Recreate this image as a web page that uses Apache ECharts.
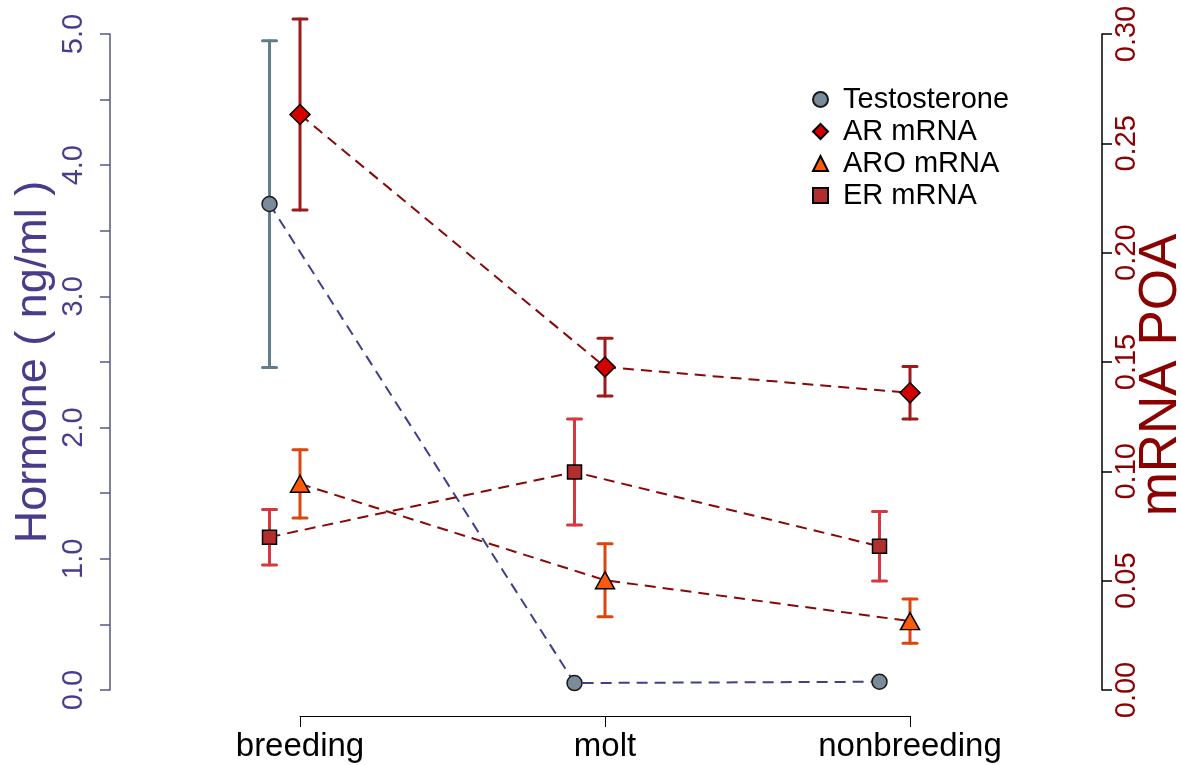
<!DOCTYPE html>
<html>
<head>
<meta charset="utf-8">
<script src="https://cdn.jsdelivr.net/npm/echarts@6/dist/echarts.min.js"></script>
<style>
html,body{margin:0;padding:0;background:#fff;}
#chart{width:1181px;height:765px;}
</style>
</head>
<body>
<div id="chart"></div>
<script>
// ---- data ----
const categories = ['breeding', 'molt', 'nonbreeding'];
const leftTicks = ['0.0', '1.0', '2.0', '3.0', '4.0', '5.0'];
const rightTicks = ['0.00', '0.05', '0.10', '0.15', '0.20', '0.25', '0.30'];
// Testosterone (ng/ml, left axis)
const testoMean = [3.704, 0.053, 0.063];
const testoSE   = [1.245, 0, 0];
// mRNA POA (right axis)
const arMean  = [0.2632, 0.1477, 0.1359];
const arSE    = [0.0437, 0.0132, 0.0120];
const aroMean = [0.0943, 0.0502, 0.0315];
const aroSE   = [0.0156, 0.0167, 0.0101];
const erMean  = [0.0699, 0.0997, 0.0657];
const erSE    = [0.0127, 0.0242, 0.0159];

// ---- build ----
const DODGE = -0.1;
function pts(mean, off) { return mean.map((v, i) => [i + 1 + off, v]); }
function bars(mean, se, off) {
  return mean.map((v, i) => [i + 1 + off, v - se[i], v + se[i]]).filter((d, i) => se[i] > 0);
}
function errRender(color) {
  return function (params, api) {
    const x = api.value(0), lo = api.value(1), hi = api.value(2);
    const a = api.coord([x, hi]), b = api.coord([x, lo]);
    const w = 7;
    const st = { stroke: color, lineWidth: 3, lineCap: 'round' };
    return {
      type: 'group',
      children: [
        { type: 'line', shape: { x1: a[0], y1: a[1], x2: b[0], y2: b[1] }, style: st },
        { type: 'line', shape: { x1: a[0] - w, y1: a[1], x2: a[0] + w, y2: a[1] }, style: st },
        { type: 'line', shape: { x1: b[0] - w, y1: b[1], x2: b[0] + w, y2: b[1] }, style: st }
      ]
    };
  };
}
const darkRed = '#880808';
const font = 'Liberation Sans, Arial, sans-serif';

const chart = echarts.init(document.getElementById('chart'), null, { renderer: 'canvas' });
const option = {
  backgroundColor: '#ffffff',
  animation: false,
  textStyle: { fontFamily: font },
  grid: [
    { left: 110, right: 79, top: 34, bottom: 75, containLabel: false, outerBoundsMode: 'none' },
    { left: 300, width: 610, top: 700, height: 16, containLabel: false, outerBoundsMode: 'none' }
  ],
  xAxis: [
    { type: 'value', gridIndex: 0, min: 0.377, max: 3.6295, show: false },
    { type: 'category', gridIndex: 1, data: categories, boundaryGap: false, position: 'bottom',
      axisLine: { lineStyle: { color: '#000', width: 1 } },
      axisTick: { length: 11, lineStyle: { color: '#000', width: 1 } },
      axisLabel: { fontSize: 33, color: '#000', margin: 14, fontFamily: font },
      splitLine: { show: false } }
  ],
  yAxis: [
    { type: 'value', gridIndex: 0, min: 0, max: 5, interval: 0.5, position: 'left',
      axisLine: { show: true, lineStyle: { color: '#56568a', width: 1.5 } },
      axisTick: { show: true, length: 10, lineStyle: { color: '#56568a', width: 1.5 } },
      axisLabel: { rotate: 90, fontSize: 29, color: '#483D8B', margin: 22, fontFamily: font,
        formatter: v => { const k = Math.round(v * 2); return k % 2 === 0 ? leftTicks[k / 2] : ''; } },
      splitLine: { show: false },
      name: 'Hormone ( ng/ml )', nameLocation: 'middle', nameRotate: 90, nameGap: 54, nameMoveOverlap: false,
      nameTextStyle: { fontSize: 45, color: '#483D8B', fontFamily: font } },
    { type: 'value', gridIndex: 0, min: 0, max: 0.3, interval: 0.05, position: 'right',
      axisLine: { show: true, lineStyle: { color: '#000', width: 1.5 } },
      axisTick: { show: true, length: 10, lineStyle: { color: '#000', width: 1.5 } },
      axisLabel: { rotate: 90, fontSize: 29, color: '#8B0000', margin: 10, fontFamily: font,
        formatter: v => rightTicks[Math.round(v / 0.05)] },
      splitLine: { show: false },
      name: 'mRNA POA', nameLocation: 'middle', nameRotate: 90, nameGap: 33, nameMoveOverlap: false,
      nameTextStyle: { fontSize: 53, color: '#8B0000', fontFamily: font, padding: [0, 26, 0, 0] } },
    { type: 'value', gridIndex: 1, show: false }
  ],
  legend: {
    orient: 'vertical', left: 807, top: 80, itemWidth: 15, itemHeight: 15, itemGap: 3,
    textStyle: { fontSize: 29, color: '#000', fontFamily: font, padding: [0, 0, 0, 10] },
    data: ['Testosterone', 'AR mRNA', 'ARO mRNA', 'ER mRNA']
  },
  series: [
    // dashed connecting lines
    { type: 'line', name: 'l-testo', xAxisIndex: 0, yAxisIndex: 0, data: pts(testoMean, DODGE), symbol: 'none',
      lineStyle: { color: '#3f3f8c', width: 2, type: [11, 7] }, z: 1 },
    { type: 'line', name: 'l-ar', xAxisIndex: 0, yAxisIndex: 1, data: pts(arMean, 0), symbol: 'none',
      lineStyle: { color: darkRed, width: 2, type: [11, 7] }, z: 1 },
    { type: 'line', name: 'l-aro', xAxisIndex: 0, yAxisIndex: 1, data: pts(aroMean, 0), symbol: 'none',
      lineStyle: { color: darkRed, width: 2, type: [11, 7] }, z: 1 },
    { type: 'line', name: 'l-er', xAxisIndex: 0, yAxisIndex: 1, data: pts(erMean, DODGE), symbol: 'none',
      lineStyle: { color: darkRed, width: 2, type: [11, 7] }, z: 1 },
    // error bars
    { type: 'custom', name: 'e-testo', xAxisIndex: 0, yAxisIndex: 0, data: bars(testoMean, testoSE, DODGE),
      renderItem: errRender('#5f7e8e'), encode: { x: 0, y: [1, 2] }, z: 2 },
    { type: 'custom', name: 'e-ar', xAxisIndex: 0, yAxisIndex: 1, data: bars(arMean, arSE, 0),
      renderItem: errRender('#9c1a1a'), encode: { x: 0, y: [1, 2] }, z: 2 },
    { type: 'custom', name: 'e-aro', xAxisIndex: 0, yAxisIndex: 1, data: bars(aroMean, aroSE, 0),
      renderItem: errRender('#d9470f'), encode: { x: 0, y: [1, 2] }, z: 2 },
    { type: 'custom', name: 'e-er', xAxisIndex: 0, yAxisIndex: 1, data: bars(erMean, erSE, DODGE),
      renderItem: errRender('#d23a3e'), encode: { x: 0, y: [1, 2] }, z: 2 },
    // markers
    { type: 'scatter', name: 'Testosterone', xAxisIndex: 0, yAxisIndex: 0, data: pts(testoMean, DODGE),
      symbol: 'circle', symbolSize: 15, itemStyle: { color: '#7a8b9a', borderColor: '#1a1a1a', borderWidth: 1.5, opacity: 1 }, z: 3 },
    { type: 'scatter', name: 'AR mRNA', xAxisIndex: 0, yAxisIndex: 1, data: pts(arMean, 0),
      symbol: 'diamond', symbolSize: 20, itemStyle: { color: '#d40000', borderColor: '#000', borderWidth: 1.5, opacity: 1 }, z: 3 },
    { type: 'scatter', name: 'ARO mRNA', xAxisIndex: 0, yAxisIndex: 1, data: pts(aroMean, 0),
      symbol: 'triangle', symbolSize: [19, 17], itemStyle: { color: '#ff5a0a', borderColor: '#000', borderWidth: 1.5, opacity: 1 }, z: 3 },
    { type: 'scatter', name: 'ER mRNA', xAxisIndex: 0, yAxisIndex: 1, data: pts(erMean, DODGE),
      symbol: 'rect', symbolSize: 14, itemStyle: { color: '#b22e2e', borderColor: '#000', borderWidth: 1.5, opacity: 1 }, z: 3 }
  ]
};
chart.setOption(option);
</script>
</body>
</html>
